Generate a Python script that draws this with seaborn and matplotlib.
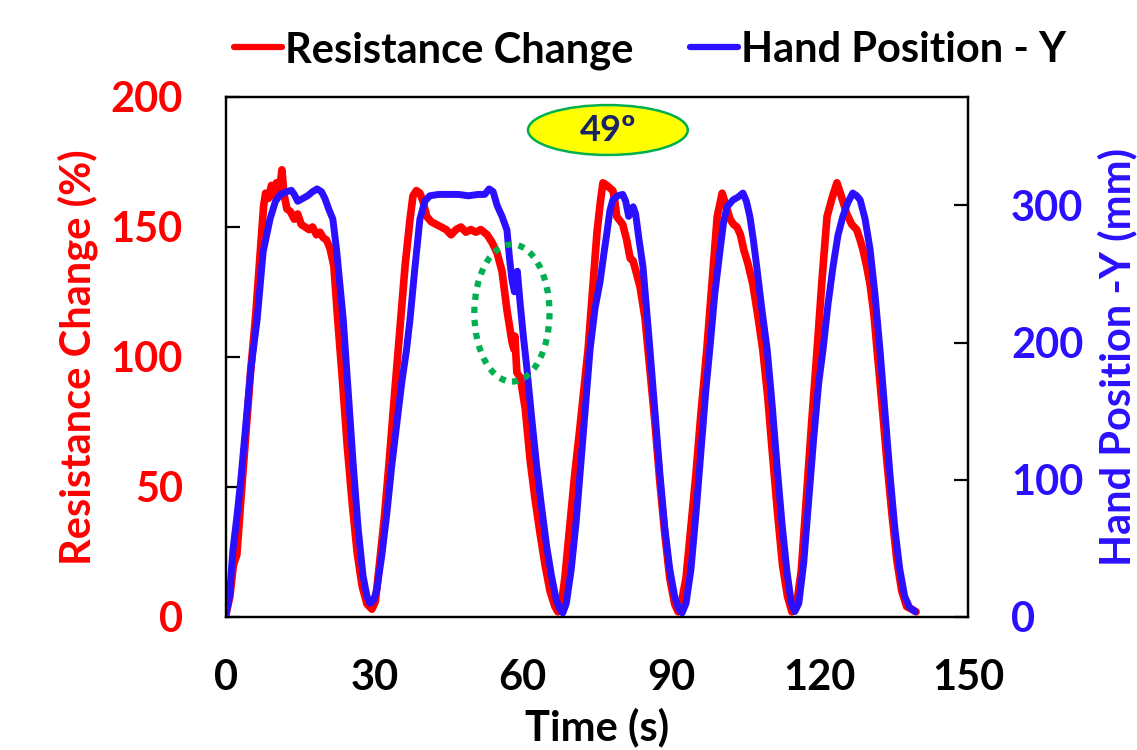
import numpy as np
import pandas as pd
import matplotlib
matplotlib.use("Agg")
import matplotlib.pyplot as plt
from matplotlib.patches import Ellipse
from matplotlib.lines import Line2D
import seaborn as sns

# ---------------- data ----------------
t_res = [0.0, 0.8, 1.5, 2.2, 3.0, 4.0, 5.0, 6.0, 7.0, 7.6, 8.0, 8.6, 9.2, 9.7, 10.2, 10.8, 11.3, 11.7,
         12.3, 13.0, 13.8, 14.5, 15.2, 16.0, 16.8, 17.5, 18.3, 19.0, 19.6, 20.3, 21.0, 21.8, 22.6,
         23.5, 24.5, 25.5, 26.5, 27.5, 28.5, 29.5, 30.2, 31.0, 32.0, 33.0, 34.0, 35.2, 36.2, 37.2,
         37.8, 38.5, 39.2, 39.8, 40.6, 41.5, 42.5, 43.5, 44.5, 45.5, 46.5, 47.5, 48.5, 49.5, 50.5,
         51.5, 52.8, 53.8, 54.8, 55.8, 56.8, 57.8, 58.2, 58.4, 58.8, 59.5, 60.5, 61.5, 62.5, 63.5,
         64.5, 65.5, 66.5, 67.1, 67.8, 68.5, 69.5, 70.5, 71.5, 72.5, 73.2, 74.2, 75.0, 75.7, 76.2,
         77.0, 78.2, 78.6, 79.0, 80.2, 81.0, 81.7, 82.3, 83.0, 83.7, 84.7, 85.7, 86.7, 87.7, 88.7,
         89.7, 90.7, 91.4, 92.0, 93.0, 94.0, 95.0, 96.0, 97.2, 98.3, 99.3, 100.3, 100.8, 101.9,
         102.6, 103.3, 104.0, 104.7, 105.5, 106.5, 107.5, 108.5, 109.5, 110.5, 111.5, 112.5, 113.5,
         114.4, 115.3, 116.3, 117.3, 118.4, 119.5, 120.5, 121.5, 122.5, 123.5, 124.2, 125.5, 126.5,
         127.5, 128.2, 128.8, 129.5, 130.2, 131.0, 131.6, 132.6, 133.6, 134.6, 135.6, 136.6, 137.6,
         138.6, 139.5]
res = [1, 8, 20, 24, 45, 70, 95, 116, 142, 158, 163, 161, 166, 162, 167, 163, 172, 163,
       157, 156, 153, 155, 151, 150, 149, 150, 147, 148, 146, 145, 142, 135, 114,
       92, 66, 44, 25, 12, 5, 3, 6, 20, 38, 60, 84, 112, 135, 153,
       162, 164, 163, 160, 154, 152, 151, 150, 149, 147, 149, 150, 148, 149, 148,
       149, 147, 144, 140, 133, 118, 106, 103, 108, 94, 92, 80, 60, 45, 32,
       20, 10, 4, 2, 5, 15, 35, 55, 72, 90, 103, 128, 148, 160, 167,
       166, 164, 160, 154, 151, 145, 138, 137, 132, 127, 115, 95, 75, 52, 32,
       15, 5, 2, 5, 15, 35, 55, 78, 103, 130, 154, 163, 160, 153,
       151, 150, 147, 141, 136, 128, 116, 103, 85, 62, 40, 20, 8,
       2, 4, 18, 45, 75, 103, 130, 154, 161, 167, 163, 155, 151,
       149, 145, 141, 135, 128, 116, 103, 82, 60, 40, 22, 10, 4,
       3, 2]

t_hand = [0.0, 0.7, 1.4, 2.2, 3.0, 4.0, 5.0, 6.3, 7.5, 8.9, 10.0, 11.0, 12.3, 13.2, 13.8, 14.5,
          15.5, 16.5, 17.5, 18.4, 19.3, 20.0, 20.8, 21.6, 22.4, 23.7, 24.7, 25.7, 26.7, 27.7,
          28.5, 29.1, 29.8, 30.5, 31.5, 32.5, 33.5, 34.5, 35.5, 36.5, 37.2, 38.2, 39.2, 40.2,
          41.2, 43.0, 45.0, 47.0, 49.0, 51.0, 52.3, 53.2, 54.0, 54.8, 55.8, 56.8, 57.3, 57.8,
          58.3, 58.6, 58.9, 59.4, 60.1, 60.8, 61.8, 62.8, 63.8, 64.8, 65.8, 66.8, 67.6, 68.1,
          68.8, 69.8, 70.8, 71.8, 72.8, 73.6, 74.6, 75.6, 76.4, 77.0, 77.6, 78.2, 79.2, 80.2,
          80.8, 81.4, 81.8, 82.3, 82.8, 83.5, 84.3, 85.0, 85.7, 86.7, 87.7, 88.7, 89.7, 90.7,
          91.5, 92.2, 93.0, 94.0, 95.0, 96.0, 97.0, 97.8, 98.8, 99.9, 100.6, 101.3, 102.5,
          103.5, 104.5, 105.2, 105.9, 106.6, 107.3, 108.3, 109.4, 110.4, 111.4, 112.4, 113.4,
          114.3, 115.0, 115.8, 116.8, 117.8, 118.8, 119.8, 120.7, 121.7, 122.7, 123.7, 124.7,
          125.7, 126.7, 127.5, 128.2, 129.2, 130.2, 131.2, 132.2, 133.2, 134.2, 135.2, 136.2,
          137.2, 138.2, 139.3]
hand = [2, 15, 49, 73, 100, 140, 180, 217, 266, 290, 303, 308, 310, 311, 308, 303,
        305, 307, 310, 312, 310, 305, 297, 290, 266, 217, 165, 112, 65, 30,
        15, 10, 12, 20, 45, 75, 110, 140, 170, 195, 217, 255, 290, 303,
        307, 308, 308, 308, 307, 308, 308, 312, 310, 300, 292, 282, 262, 246,
        237, 250, 252, 231, 205, 182, 145, 110, 80, 52, 30, 12, 5, 3,
        10, 35, 70, 115, 160, 195, 225, 244, 265, 280, 296, 304, 307, 308,
        303, 292, 295, 299, 294, 275, 255, 225, 195, 150, 105, 65, 35, 15,
        6, 3, 10, 35, 75, 120, 165, 195, 235, 268, 288, 299, 304,
        306, 309, 303, 292, 275, 255, 225, 195, 155, 110, 68, 33,
        10, 4, 10, 40, 85, 130, 170, 195, 228, 255, 278, 292,
        302, 309, 307, 304, 290, 268, 235, 195, 150, 105, 65, 35,
        15, 7, 4]

x_ticks = [0, 30, 60, 90, 120, 150]
left_ticks = [0, 50, 100, 150, 200]
right_ticks = [0, 100, 200, 300]
angle_label = "49º"

# ---------------- style ----------------
sns.set_style("white")
plt.rcParams['font.family'] = ['Lato', 'DejaVu Sans']
plt.rcParams['font.weight'] = 'bold'
plt.rcParams['axes.labelweight'] = 'bold'
plt.rcParams['text.color'] = 'black'
plt.rcParams['axes.labelcolor'] = 'black'
plt.rcParams['xtick.color'] = 'black'
plt.rcParams['ytick.color'] = 'black'

RED = '#FF0000'
BLUE = '#2A10FF'
GREEN = '#00B050'
FS = 30

fig = plt.figure(figsize=(11.37, 7.5), dpi=100)
ax = fig.add_axes([226/1137, 1 - 617/750, (968-226)/1137, (617-97)/750])
ax2 = ax.twinx()

df_r = pd.DataFrame({'t': t_res, 'v': res})
df_h = pd.DataFrame({'t': t_hand, 'v': hand})
sns.lineplot(data=df_r, x='t', y='v', ax=ax, color=RED, lw=5.5, sort=False, estimator=None)
sns.lineplot(data=df_h, x='t', y='v', ax=ax2, color=BLUE, lw=5, sort=False, estimator=None)

ax.set_xlim(0, 150)
ax.set_ylim(0, 200)
ax2.set_ylim(0, 379)
ax.set_xticks(x_ticks)
ax.set_yticks(left_ticks)
ax2.set_yticks(right_ticks)

for a in (ax, ax2):
    for s in a.spines.values():
        s.set_color('black')
        s.set_linewidth(1.6)
        s.set_visible(True)

ax.tick_params(axis='x', length=0, pad=30, labelsize=FS, labelcolor='black')
ax.tick_params(axis='y', direction='in', length=10, width=1.6, pad=31, labelsize=FS,
               labelcolor=RED, left=True)
ax2.tick_params(axis='y', direction='in', length=10, width=1.6, pad=31, labelsize=FS,
                labelcolor=BLUE, right=True)

ax.set_xlabel('Time (s)', fontsize=FS, fontweight='bold', labelpad=8)
ax.set_ylabel('Resistance Change (%)', fontsize=FS, fontweight='bold', color=RED, labelpad=9)
ax2.set_ylabel('Hand Position -Y (mm)', fontsize=FS, fontweight='bold', color=BLUE,
               rotation=90, labelpad=10)

# annotation ellipse with angle
e1 = Ellipse((77.2, 187.3), 32.3, 19.2, facecolor='#FFFF00', edgecolor=GREEN, lw=1.8, zorder=5)
ax.add_patch(e1)
ax.text(77.2, 187.0, angle_label, ha='center', va='center', fontsize=26, fontweight='bold',
        color='#1A2366', zorder=6)

# dotted highlight ellipse (on top of both lines)
e2 = Ellipse((57.8, 221.6), 15.2, 100.0, facecolor='none', edgecolor=GREEN, lw=4.5,
             linestyle=(0, (1, 1.1)), zorder=10)
ax2.add_patch(e2)

handles = [Line2D([], [], color=RED, lw=4.5), Line2D([], [], color=BLUE, lw=4.5)]
fig.legend(handles, ['Resistance Change', 'Hand Position - Y'], loc='center',
           bbox_to_anchor=(0.572, 0.933), ncol=2, frameon=False,
           handlelength=1.15, handletextpad=0.08, columnspacing=1.35,
           prop={'weight': 'bold', 'size': FS})

fig.savefig('out.png', dpi=100)
